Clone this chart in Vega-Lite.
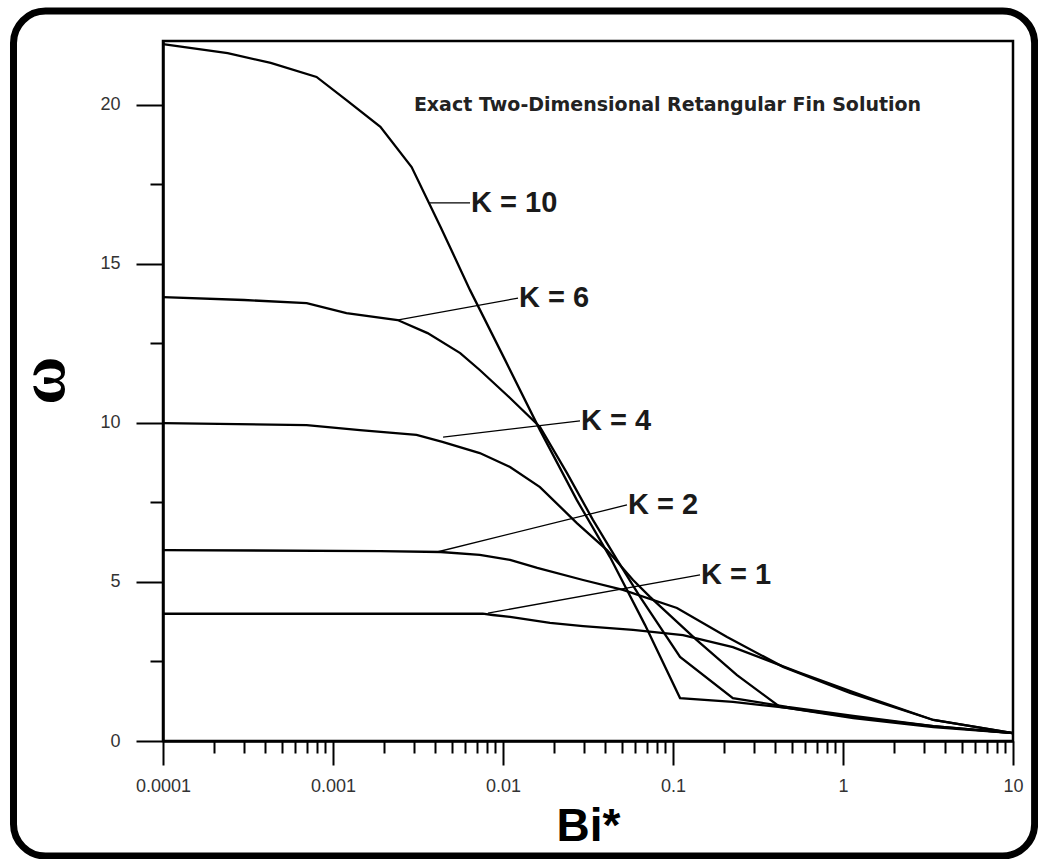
{
  "$schema": "https://vega.github.io/schema/vega-lite/v6.json",
  "autosize": {"type": "none"},
  "width": 850,
  "height": 700,
  "padding": {"left": 163, "top": 41, "right": 25, "bottom": 118},
  "background": "white",
  "config": {
    "view": {"stroke": "black", "strokeWidth": 2.5},
    "axis": {
      "grid": false,
      "domainColor": "black",
      "domainWidth": 2.5,
      "tickColor": "black",
      "tickWidth": 2,
      "labelFont": "Liberation Sans",
      "labelFontSize": 18,
      "labelColor": "#333333",
      "titleColor": "black"
    }
  },
  "datasets": {
    "curves": [
      {"K": 10, "x": 0.0001, "y": 21.9}, {"K": 10, "x": 0.00024, "y": 21.62}, {"K": 10, "x": 0.00043, "y": 21.31},
      {"K": 10, "x": 0.0008, "y": 20.87}, {"K": 10, "x": 0.0012, "y": 20.14}, {"K": 10, "x": 0.0019, "y": 19.3},
      {"K": 10, "x": 0.0029, "y": 18.04}, {"K": 10, "x": 0.0043, "y": 16.15}, {"K": 10, "x": 0.0064, "y": 14.17},
      {"K": 10, "x": 0.0103, "y": 11.97}, {"K": 10, "x": 0.0165, "y": 9.77}, {"K": 10, "x": 0.0272, "y": 7.57},
      {"K": 10, "x": 0.0426, "y": 5.78}, {"K": 10, "x": 0.0684, "y": 3.65}, {"K": 10, "x": 0.11, "y": 1.35},
      {"K": 10, "x": 0.225, "y": 1.23}, {"K": 10, "x": 0.47, "y": 1.04}, {"K": 10, "x": 1.15, "y": 0.72},
      {"K": 10, "x": 3.4, "y": 0.44}, {"K": 10, "x": 10, "y": 0.25},

      {"K": 6, "x": 0.0001, "y": 13.95}, {"K": 6, "x": 0.0003, "y": 13.86}, {"K": 6, "x": 0.0007, "y": 13.76},
      {"K": 6, "x": 0.0012, "y": 13.45}, {"K": 6, "x": 0.0024, "y": 13.23}, {"K": 6, "x": 0.0036, "y": 12.82},
      {"K": 6, "x": 0.0056, "y": 12.19}, {"K": 6, "x": 0.0073, "y": 11.66}, {"K": 6, "x": 0.011, "y": 10.78},
      {"K": 6, "x": 0.0165, "y": 9.87}, {"K": 6, "x": 0.0238, "y": 8.42}, {"K": 6, "x": 0.0338, "y": 6.95},
      {"K": 6, "x": 0.0469, "y": 5.69}, {"K": 6, "x": 0.064, "y": 4.53}, {"K": 6, "x": 0.11, "y": 2.64},
      {"K": 6, "x": 0.225, "y": 1.35}, {"K": 6, "x": 0.47, "y": 1.07}, {"K": 6, "x": 1.15, "y": 0.79},
      {"K": 6, "x": 3.4, "y": 0.47}, {"K": 6, "x": 10, "y": 0.25},

      {"K": 4, "x": 0.0001, "y": 9.99}, {"K": 4, "x": 0.0007, "y": 9.93}, {"K": 4, "x": 0.00144, "y": 9.77},
      {"K": 4, "x": 0.0031, "y": 9.62}, {"K": 4, "x": 0.0044, "y": 9.4}, {"K": 4, "x": 0.0073, "y": 9.05},
      {"K": 4, "x": 0.011, "y": 8.61}, {"K": 4, "x": 0.0165, "y": 7.98}, {"K": 4, "x": 0.0272, "y": 6.85},
      {"K": 4, "x": 0.0409, "y": 6.0}, {"K": 4, "x": 0.0582, "y": 5.06}, {"K": 4, "x": 0.0732, "y": 4.53},
      {"K": 4, "x": 0.138, "y": 3.17}, {"K": 4, "x": 0.238, "y": 2.07}, {"K": 4, "x": 0.426, "y": 1.07},
      {"K": 4, "x": 1.15, "y": 0.75}, {"K": 4, "x": 3.4, "y": 0.47}, {"K": 4, "x": 10, "y": 0.25},

      {"K": 2, "x": 0.0001, "y": 6.0}, {"K": 2, "x": 0.0019, "y": 5.97}, {"K": 2, "x": 0.0043, "y": 5.94},
      {"K": 2, "x": 0.0073, "y": 5.85}, {"K": 2, "x": 0.011, "y": 5.69}, {"K": 2, "x": 0.0159, "y": 5.44},
      {"K": 2, "x": 0.0296, "y": 5.06}, {"K": 2, "x": 0.0508, "y": 4.75}, {"K": 2, "x": 0.1055, "y": 4.18},
      {"K": 2, "x": 0.208, "y": 3.27}, {"K": 2, "x": 0.444, "y": 2.33}, {"K": 2, "x": 1.1, "y": 1.51},
      {"K": 2, "x": 3.4, "y": 0.66}, {"K": 2, "x": 10, "y": 0.25},

      {"K": 1, "x": 0.0001, "y": 4.0}, {"K": 1, "x": 0.0076, "y": 4.0}, {"K": 1, "x": 0.0087, "y": 3.96},
      {"K": 1, "x": 0.011, "y": 3.9}, {"K": 1, "x": 0.0189, "y": 3.71}, {"K": 1, "x": 0.0296, "y": 3.61},
      {"K": 1, "x": 0.0582, "y": 3.49}, {"K": 1, "x": 0.1145, "y": 3.33}, {"K": 1, "x": 0.225, "y": 2.95},
      {"K": 1, "x": 0.5585, "y": 2.14}, {"K": 1, "x": 1.384, "y": 1.38}, {"K": 1, "x": 3.4, "y": 0.66},
      {"K": 1, "x": 10, "y": 0.25}
    ],
    "leaders": [
      {"K": 10, "x": 0.00372, "y": 16.91, "x2": 0.0064, "y2": 16.91},
      {"K": 6, "x": 0.00238, "y": 13.23, "x2": 0.01226, "y2": 13.92},
      {"K": 4, "x": 0.00444, "y": 9.55, "x2": 0.02838, "y2": 10.06},
      {"K": 2, "x": 0.00409, "y": 5.94, "x2": 0.0536, "y2": 7.42},
      {"K": 1, "x": 0.00816, "y": 4.02, "x2": 0.1442, "y2": 5.22}
    ],
    "labels": [
      {"label": "K = 10", "x": 0.0064, "y": 16.91},
      {"label": "K = 6", "x": 0.01226, "y": 13.92},
      {"label": "K = 4", "x": 0.02838, "y": 10.06},
      {"label": "K = 2", "x": 0.0536, "y": 7.42},
      {"label": "K = 1", "x": 0.1442, "y": 5.22}
    ],
    "note": [
      {"label": "Exact Two-Dimensional Retangular Fin Solution", "x": 0.0928, "y": 20.0}
    ]
  },
  "layer": [
    {
      "data": {"name": "curves"},
      "mark": {"type": "line", "color": "black", "strokeWidth": 2.3, "clip": false},
      "encoding": {
        "x": {
          "field": "x",
          "type": "quantitative",
          "scale": {"type": "log", "domain": [0.0001, 10], "nice": false},
          "axis": {
            "title": "Bi*",
            "titleFont": "Liberation Sans",
            "titleFontSize": 46,
            "titleFontWeight": "bold",
            "titleBaseline": "alphabetic",
            "titleY": 99,
            "values": [0.0001, 0.0002, 0.0003, 0.0004, 0.0005, 0.0006, 0.0007, 0.0008, 0.0009,
                       0.001, 0.002, 0.003, 0.004, 0.005, 0.006, 0.007, 0.008, 0.009,
                       0.01, 0.02, 0.03, 0.04, 0.05, 0.06, 0.07, 0.08, 0.09,
                       0.1, 0.2, 0.3, 0.4, 0.5, 0.6, 0.7, 0.8, 0.9,
                       1, 2, 3, 4, 5, 6, 7, 8, 9, 10],
            "labelExpr": "indexof([0.0001,0.001,0.01,0.1,1,10], datum.value) >= 0 ? '' + datum.value : ''",
            "tickSize": {"condition": {"test": "indexof([0.0001,0.001,0.01,0.1,1,10], datum.value) >= 0", "value": 24}, "value": 12},
            "labelPadding": 12,
            "labelFlush": false,
            "labelOverlap": false
          }
        },
        "y": {
          "field": "y",
          "type": "quantitative",
          "scale": {"domain": [0, 22], "nice": false, "zero": false},
          "axis": {
            "title": "ω",
            "titleFont": "Liberation Serif",
            "titleFontSize": 66,
            "titleFontWeight": "bold",
            "titleAngle": -90,
            "titleBaseline": "alphabetic",
            "titleAlign": "center",
            "titleX": -100,
            "titleY": 339,
            "values": [0, 2.5, 5, 7.5, 10, 12.5, 15, 17.5, 20],
            "labelExpr": "datum.value % 5 == 0 ? '' + datum.value : ''",
            "tickSize": {"condition": {"test": "datum.value % 5 == 0", "value": 27}, "value": 13},
            "labelPadding": 16,
            "labelOverlap": false
          }
        },
        "detail": {"field": "K", "type": "nominal"}
      }
    },
    {
      "data": {"name": "leaders"},
      "mark": {"type": "rule", "color": "black", "strokeWidth": 1.3},
      "encoding": {
        "x": {"field": "x", "type": "quantitative"},
        "y": {"field": "y", "type": "quantitative"},
        "x2": {"field": "x2"},
        "y2": {"field": "y2"}
      }
    },
    {
      "data": {"name": "labels"},
      "mark": {"type": "text", "align": "left", "baseline": "middle", "font": "Liberation Sans", "fontSize": 29, "fontWeight": "bold", "color": "#1a1a1a", "dx": 1},
      "encoding": {
        "x": {"field": "x", "type": "quantitative"},
        "y": {"field": "y", "type": "quantitative"},
        "text": {"field": "label"}
      }
    },
    {
      "data": {"name": "note"},
      "mark": {"type": "text", "align": "center", "baseline": "middle", "font": "DejaVu Sans", "fontSize": 19, "fontWeight": "bold", "color": "#222222"},
      "encoding": {
        "x": {"field": "x", "type": "quantitative"},
        "y": {"field": "y", "type": "quantitative"},
        "text": {"field": "label"}
      }
    },
    {
      "data": {"values": [{}]},
      "mark": {"type": "rect", "filled": false, "stroke": "black", "strokeWidth": 7, "cornerRadius": 32, "clip": false},
      "encoding": {
        "x": {"datum": 0.0000132, "type": "quantitative"},
        "x2": {"datum": 13.4},
        "y": {"datum": 22.94, "type": "quantitative"},
        "y2": {"datum": -3.614}
      }
    }
  ]
}
